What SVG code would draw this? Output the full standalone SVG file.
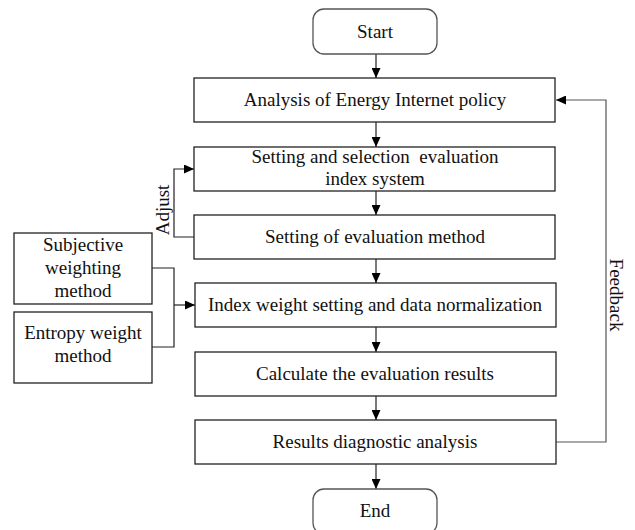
<svg xmlns="http://www.w3.org/2000/svg" width="635" height="530" viewBox="0 0 635 530">
  <defs>
    <marker id="arrow" viewBox="0 0 10 10" refX="10" refY="5" markerWidth="10" markerHeight="9" markerUnits="userSpaceOnUse" orient="auto" preserveAspectRatio="none">
      <path d="M0,0 L10,5 L0,10 Z" fill="#000"/>
    </marker>
  </defs>
  <style>
    text { font-family: "Liberation Serif", "Times New Roman", serif; font-size: 19px; fill: #111; text-anchor: middle; }
    .box { fill: #fff; stroke: #222; stroke-width: 1.3; }
    .term { fill: #fff; stroke: #555; stroke-width: 1.3; }
    .conn { fill: none; stroke: #222; stroke-width: 1.2; }
    .fb { fill: none; stroke: #555; stroke-width: 1.2; }
  </style>
  <rect width="635" height="530" fill="#fff"/>

  <g id="connectors">
    <line class="conn" x1="376" y1="54" x2="376" y2="78" marker-end="url(#arrow)"/>
    <line class="conn" x1="376" y1="122" x2="376" y2="147" marker-end="url(#arrow)"/>
    <line class="conn" x1="376" y1="191" x2="376" y2="215" marker-end="url(#arrow)"/>
    <line class="conn" x1="376" y1="259" x2="376" y2="283" marker-end="url(#arrow)"/>
    <line class="conn" x1="376" y1="327" x2="376" y2="352" marker-end="url(#arrow)"/>
    <line class="conn" x1="376" y1="396" x2="376" y2="420" marker-end="url(#arrow)"/>
    <line class="conn" x1="376" y1="464" x2="376" y2="489" marker-end="url(#arrow)"/>
    <!-- adjust loop -->
    <polyline class="conn" points="194,237 174,237 174,169 194,169" marker-end="url(#arrow)"/>
    <!-- weighting inputs -->
    <polyline class="conn" points="152,268 174,268 174,347 152,347"/>
    <line class="conn" x1="174" y1="305" x2="195" y2="305" marker-end="url(#arrow)"/>
    <!-- feedback loop -->
    <polyline class="fb" points="556,442 606,442 606,100 556,100" marker-end="url(#arrow)"/>
    <text transform="translate(169,210) rotate(-90)">Adjust</text>
    <text transform="translate(610,295) rotate(90)">Feedback</text>
  </g>

  <g id="start">
    <rect class="term" x="313" y="9" width="124" height="45" rx="11"/>
    <text x="375" y="38">Start</text>
  </g>
  <g id="policy">
    <rect class="box" x="194" y="78" width="361" height="44"/>
    <text x="375" y="106">Analysis of Energy Internet policy</text>
  </g>
  <g id="index-system">
    <rect class="box" x="194" y="147" width="361" height="44"/>
    <text x="375" y="163" xml:space="preserve">Setting and selection  evaluation</text>
    <text x="375" y="185">index system</text>
  </g>
  <g id="method">
    <rect class="box" x="194" y="215" width="361" height="44"/>
    <text x="375" y="243">Setting of evaluation method</text>
  </g>
  <g id="weight">
    <rect class="box" x="195" y="283" width="361" height="44"/>
    <text x="375" y="311">Index weight setting and data normalization</text>
  </g>
  <g id="calculate">
    <rect class="box" x="195" y="352" width="361" height="44"/>
    <text x="375" y="380">Calculate the evaluation results</text>
  </g>
  <g id="diagnostic">
    <rect class="box" x="195" y="420" width="361" height="44"/>
    <text x="375" y="448">Results diagnostic analysis</text>
  </g>
  <g id="end">
    <rect class="term" x="313" y="489" width="124" height="45" rx="11"/>
    <text x="375" y="517">End</text>
  </g>
  <g id="subjective">
    <rect class="box" x="14" y="233" width="138" height="71"/>
    <text x="83" y="251">Subjective</text>
    <text x="83" y="274">weighting</text>
    <text x="83" y="297">method</text>
  </g>
  <g id="entropy">
    <rect class="box" x="14" y="312" width="138" height="71"/>
    <text x="83" y="339">Entropy weight</text>
    <text x="83" y="362">method</text>
  </g>
</svg>
